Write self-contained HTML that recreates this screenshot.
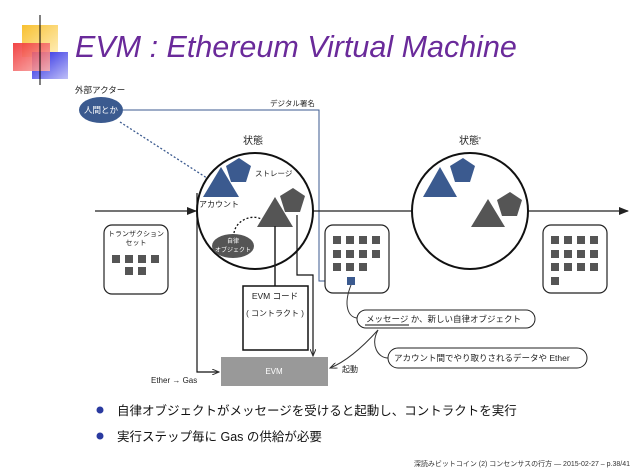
<!DOCTYPE html>
<html><head><meta charset="utf-8"><style>
body{margin:0;background:#fff;}
svg{display:block;font-family:"Liberation Sans","Noto Sans CJK JP",sans-serif;}
</style></head><body>
<svg width="638" height="473" viewBox="0 0 638 473" xmlns="http://www.w3.org/2000/svg">
<defs>
<linearGradient id="gy" x1="0" y1="0" x2="1" y2="1"><stop offset="0" stop-color="#f8c030"/><stop offset="1" stop-color="#fff0c0"/></linearGradient>
<linearGradient id="gr" x1="0" y1="0" x2="1" y2="1"><stop offset="0" stop-color="#f03030"/><stop offset="1" stop-color="#f8b0b0"/></linearGradient>
<linearGradient id="gb" x1="0" y1="0" x2="1" y2="1"><stop offset="0" stop-color="#2020e0"/><stop offset="1" stop-color="#c0c0f8"/></linearGradient>
<linearGradient id="gl" x1="0" y1="0" x2="1" y2="0"><stop offset="0" stop-color="#777"/><stop offset="1" stop-color="#ddd"/></linearGradient>
<marker id="ab" markerWidth="10" markerHeight="8" refX="9" refY="4" orient="auto" markerUnits="userSpaceOnUse"><path d="M0,0 L10,4 L0,8 z" fill="#222"/></marker>
<marker id="as" markerWidth="8" markerHeight="6" refX="7" refY="3" orient="auto" markerUnits="userSpaceOnUse"><path d="M0,0 L7,3 L0,6" fill="none" stroke="#333" stroke-width="1"/></marker>
<marker id="abl" markerWidth="8" markerHeight="6" refX="7" refY="3" orient="auto" markerUnits="userSpaceOnUse"><path d="M0,0 L7,3 L0,6" fill="none" stroke="#3b5a8f" stroke-width="1"/></marker>
</defs>
<!-- logo -->
<rect x="22" y="25" width="36" height="32" fill="url(#gy)"/>
<rect x="32" y="52" width="36" height="27" fill="url(#gb)"/>
<rect x="13" y="43" width="37" height="28" fill="url(#gr)" opacity="0.9"/>
<line x1="40" y1="15" x2="40" y2="85" stroke="#000" stroke-width="1"/>
<line x1="18" y1="62" x2="530" y2="62" stroke="url(#gl)" stroke-width="1.5"/>
<text x="75" y="57" font-size="30.5" font-style="italic" fill="#6a2a9a">EVM : Ethereum Virtual Machine</text>

<text x="75" y="93" font-size="8.5" fill="#222">外部アクター</text>
<ellipse cx="101" cy="110" rx="22" ry="13" fill="#3b5a8f"/>
<text x="101" y="113" font-size="8.5" fill="#fff" text-anchor="middle">人間とか</text>
<path d="M123,110 H319 V281 H347" fill="none" stroke="#3b5a8f" stroke-width="1" marker-end="url(#abl)"/>
<text x="270" y="106" font-size="7.5" fill="#222">デジタル署名</text>
<line x1="120" y1="122" x2="210" y2="180" stroke="#3b5a8f" stroke-width="1.3" stroke-dasharray="2,2"/>

<!-- main line -->
<line x1="95" y1="211" x2="196" y2="211" stroke="#222" stroke-width="1.2" marker-end="url(#ab)"/>
<line x1="313" y1="211" x2="412" y2="211" stroke="#222" stroke-width="1.2"/>
<line x1="528" y1="211" x2="628" y2="211" stroke="#222" stroke-width="1.2" marker-end="url(#ab)"/>

<text x="253" y="144" font-size="10" fill="#222" text-anchor="middle">状態</text>
<circle cx="255" cy="211" r="58" fill="#fff" stroke="#111" stroke-width="2"/>
<text x="470" y="144" font-size="10" fill="#222" text-anchor="middle">状態'</text>
<circle cx="470" cy="211" r="58" fill="#fff" stroke="#111" stroke-width="2"/>

<!-- circle1 contents -->
<polygon points="226,166 239,158 251,166 246,182 231,182" fill="#3b5a8f"/>
<polygon points="203,197 221,167 239,197" fill="#3b5a8f"/>
<text x="255" y="176" font-size="7.5" fill="#222">ストレージ</text>
<text x="199" y="207" font-size="8" fill="#222">アカウント</text>
<polygon points="280,196 293,188 305,196 300,212 285,212" fill="#555"/>
<polygon points="257,227 275,197 293,227" fill="#555"/>
<path d="M234,233 C236,220 252,214 261,219" fill="none" stroke="#111" stroke-width="1.3" stroke-dasharray="2,2"/>
<ellipse cx="233" cy="246" rx="21" ry="12" fill="#555"/>
<text x="233" y="243" font-size="6" fill="#fff" text-anchor="middle">自律</text>
<text x="233" y="252" font-size="6" fill="#fff" text-anchor="middle">オブジェクト</text>

<!-- circle2 contents -->
<polygon points="450,166 463,158 475,166 470,182 455,182" fill="#3b5a8f"/>
<polygon points="423,197 440,167 457,197" fill="#3b5a8f"/>
<polygon points="497,200 510,192 522,200 517,216 502,216" fill="#555"/>
<polygon points="471,227 488,199 505,227" fill="#555"/>

<!-- boxes -->
<rect x="104" y="225" width="64" height="69" rx="8" fill="#fff" stroke="#222" stroke-width="1.2"/>
<text x="136" y="236" font-size="7" fill="#222" text-anchor="middle">トランザクション</text>
<text x="136" y="245" font-size="7" fill="#222" text-anchor="middle">セット</text>
<g fill="#555">
<rect x="112" y="255" width="8" height="8"/><rect x="125" y="255" width="8" height="8"/><rect x="138" y="255" width="8" height="8"/><rect x="151" y="255" width="8" height="8"/>
<rect x="125" y="267" width="8" height="8"/><rect x="138" y="267" width="8" height="8"/>
</g>
<rect x="325" y="225" width="64" height="68" rx="8" fill="#fff" stroke="#222" stroke-width="1.2"/>
<g fill="#555">
<rect x="333" y="236" width="8" height="8"/><rect x="346" y="236" width="8" height="8"/><rect x="359" y="236" width="8" height="8"/><rect x="372" y="236" width="8" height="8"/>
<rect x="333" y="250" width="8" height="8"/><rect x="346" y="250" width="8" height="8"/><rect x="359" y="250" width="8" height="8"/><rect x="372" y="250" width="8" height="8"/>
<rect x="333" y="263" width="8" height="8"/><rect x="346" y="263" width="8" height="8"/><rect x="359" y="263" width="8" height="8"/>
</g>
<rect x="347" y="277" width="8" height="8" fill="#3b5a8f"/>
<rect x="543" y="225" width="64" height="68" rx="8" fill="#fff" stroke="#222" stroke-width="1.2"/>
<g fill="#555">
<rect x="551" y="236" width="8" height="8"/><rect x="564" y="236" width="8" height="8"/><rect x="577" y="236" width="8" height="8"/><rect x="590" y="236" width="8" height="8"/>
<rect x="551" y="250" width="8" height="8"/><rect x="564" y="250" width="8" height="8"/><rect x="577" y="250" width="8" height="8"/><rect x="590" y="250" width="8" height="8"/>
<rect x="551" y="263" width="8" height="8"/><rect x="564" y="263" width="8" height="8"/><rect x="577" y="263" width="8" height="8"/><rect x="590" y="263" width="8" height="8"/>
<rect x="551" y="277" width="8" height="8"/>
</g>

<!-- EVM code -->
<line x1="275" y1="226" x2="275" y2="286" stroke="#222" stroke-width="1.5"/>
<rect x="243" y="286" width="65" height="64" fill="#fff" stroke="#111" stroke-width="1.5"/>
<text x="275" y="299" font-size="8.5" fill="#222" text-anchor="middle">EVM コード</text>
<text x="275" y="316" font-size="8" fill="#222" text-anchor="middle">( コントラクト )</text>
<path d="M297,215 V275 H313 V356" fill="none" stroke="#111" stroke-width="1.2" marker-end="url(#as)"/>
<path d="M197,193 V372 H219" fill="none" stroke="#111" stroke-width="1.2" marker-end="url(#as)"/>
<rect x="221" y="357" width="107" height="29" fill="#999"/>
<text x="274" y="374" font-size="8" fill="#fff" text-anchor="middle">EVM</text>
<text x="151" y="383" font-size="8" fill="#222">Ether → Gas</text>

<!-- bubbles -->
<path d="M351,285 C343,305 348,318 358,318" fill="none" stroke="#333" stroke-width="1"/>
<rect x="357" y="310" width="178" height="18" rx="9" fill="#fff" stroke="#222" stroke-width="1"/>
<text x="366" y="322" font-size="8.5" fill="#222">メッセージ か、新しい自律オブジェクト</text>
<line x1="365" y1="325" x2="409" y2="325" stroke="#111" stroke-width="1"/>
<path d="M378,330 C370,345 378,358 388,358" fill="none" stroke="#333" stroke-width="1"/>
<rect x="388" y="348" width="199" height="20" rx="10" fill="#fff" stroke="#222" stroke-width="1"/>
<text x="394" y="361" font-size="8.5" fill="#222">アカウント間でやり取りされるデータや Ether</text>
<path d="M378,330 C360,350 345,362 330,368" fill="none" stroke="#333" stroke-width="1" marker-end="url(#as)"/>
<text x="342" y="372" font-size="8" fill="#222">起動</text>

<!-- bullets -->
<circle cx="100" cy="410" r="3.5" fill="#2a3aa0"/>
<text x="117" y="415" font-size="12.5" fill="#111">自律オブジェクトがメッセージを受けると起動し、コントラクトを実行</text>
<circle cx="100" cy="436" r="3.5" fill="#2a3aa0"/>
<text x="117" y="441" font-size="12.5" fill="#111">実行ステップ毎に Gas の供給が必要</text>
<text x="630" y="466" font-size="7" fill="#333" text-anchor="end">深読みビットコイン (2) コンセンサスの行方 — 2015-02-27 – p.38/41</text>
</svg>
</body></html>
